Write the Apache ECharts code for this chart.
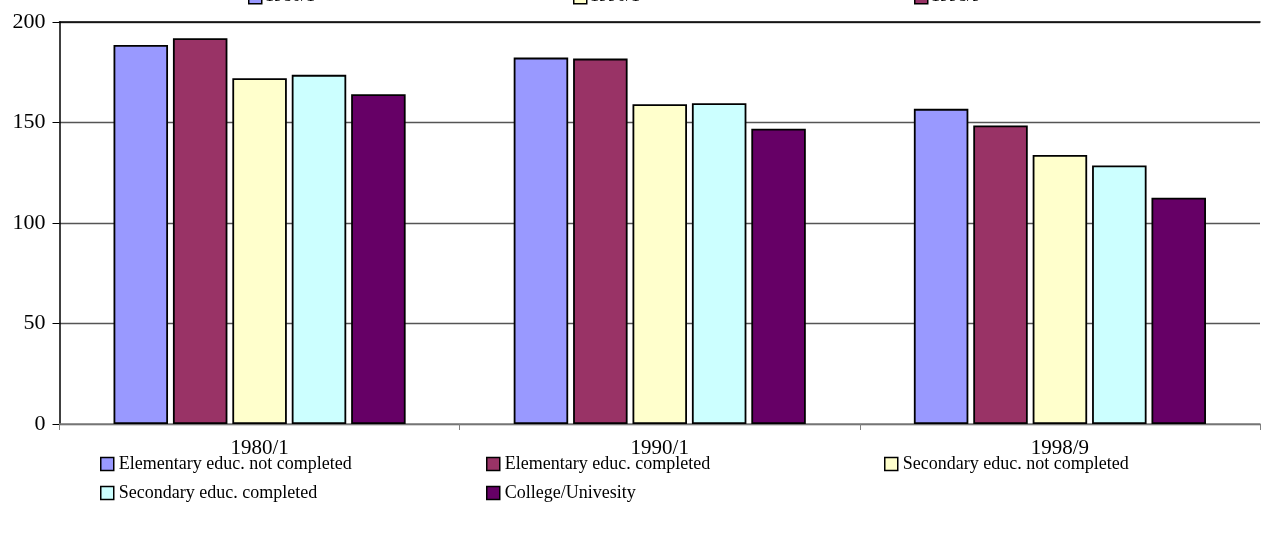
<!DOCTYPE html>
<html>
<head>
<meta charset="utf-8">
<script src="https://cdn.jsdelivr.net/npm/echarts@6/dist/echarts.min.js"></script>
<style>
  html, body { margin: 0; padding: 0; background: #fff; }
  #chart { width: 1261px; height: 541px; }
</style>
</head>
<body>
<div id="chart"></div>
<script>
// categories on the x axis
const periods = ["1980/1", "1990/1", "1998/9"];

// one series per education level
const seriesNames = [
    "Elementary educ. not completed",
    "Elementary educ. completed",
    "Secondary educ. not completed",
    "Secondary educ. completed",
    "College/Univesity"
];
const elemNotCompleted = [188.6, 182.3, 156.8];
const elemCompleted = [191.9, 181.8, 148.5];
const secNotCompleted = [172.0, 159.1, 133.8];
const secCompleted = [173.7, 159.6, 128.6];
const college = [164.1, 146.9, 112.6];
const seriesValues = [elemNotCompleted, elemCompleted, secNotCompleted, secCompleted, college];

const seriesColors = ["#9999FF", "#993366", "#FFFFCC", "#CCFFFF", "#660066"];

// fragment of a legend from the chart above, cut by the top edge
const topLegendNames = ["1980/1", "1990/1", "1998/9"];
const topLegendColors = ["#9999FF", "#FFFFCC", "#993366"];

const yTicks = [0, 50, 100, 150, 200];

const font = "'Liberation Serif', 'Times New Roman', serif";

const chart = echarts.init(document.getElementById("chart"), null, { renderer: "canvas" });

const series = seriesNames.map((name, i) => ({
    name,
    type: "bar",
    data: seriesValues[i],
    barGap: "9%",
    barCategoryGap: "27%",
    itemStyle: {
        color: seriesColors[i],
        borderColor: "#000",
        borderWidth: 1.8
    },
    emphasis: { disabled: true },
    animation: false
}));

// legend laid out as a 3 column grid, one component per item
const legendCols = [95, 481, 879];
const legendRows = [450, 479];
const legends = seriesNames.map((name, i) => ({
    orient: "horizontal",
    icon: "rect",
    itemWidth: 13,
    itemHeight: 13,
    left: legendCols[i % 3],
    top: legendRows[Math.floor(i / 3)],
    selectedMode: false,
    itemStyle: { borderColor: "#000", borderWidth: 1.5 },
    textStyle: { fontFamily: font, fontSize: 18, color: "#000", lineHeight: 18 },
    data: [name]
}));

const topLegendX = [248, 573, 914];
const topGraphic = [];
topLegendNames.forEach((name, i) => {
    topGraphic.push({
        type: "rect",
        left: topLegendX[i],
        top: -10,
        shape: { width: 13, height: 13 },
        style: { fill: topLegendColors[i], stroke: "#000", lineWidth: 1.5 }
    });
    topGraphic.push({
        type: "text",
        x: topLegendX[i] + 17,
        y: -4,
        style: {
            text: name,
            fontFamily: font,
            fontSize: 18,
            fill: "#000",
            verticalAlign: "middle"
        }
    });
});

const options = {
    backgroundColor: "#fff",
    animation: false,
    grid: {
        left: 59.5,
        right: 1,
        top: 22,
        bottom: 117,
        containLabel: false
    },
    legend: legends,
    xAxis: [
        {
            type: "category",
            data: periods,
            boundaryGap: true,
            axisLine: { lineStyle: { color: "#808080", width: 1.5 } },
            axisTick: { show: true, interval: 0, length: 6, lineStyle: { color: "#808080" } },
            axisLabel: { fontFamily: font, fontSize: 21, color: "#000", margin: 14 }
        },
        {
            type: "category",
            position: "top",
            data: periods,
            axisLine: { lineStyle: { color: "#000", width: 1.5 } },
            axisTick: { show: false },
            axisLabel: { show: false }
        }
    ],
    yAxis: {
        type: "value",
        min: yTicks[0],
        max: yTicks[yTicks.length - 1],
        interval: 50,
        axisLine: { show: true, lineStyle: { color: "#000", width: 1.5 } },
        axisTick: { show: true, length: 7, lineStyle: { color: "#000" } },
        axisLabel: { fontFamily: font, fontSize: 22, color: "#000", margin: 14 },
        splitLine: { show: true, lineStyle: { color: "#555", width: 1.3 } }
    },
    graphic: topGraphic,
    series
};

chart.setOption(options);
</script>
</body>
</html>
